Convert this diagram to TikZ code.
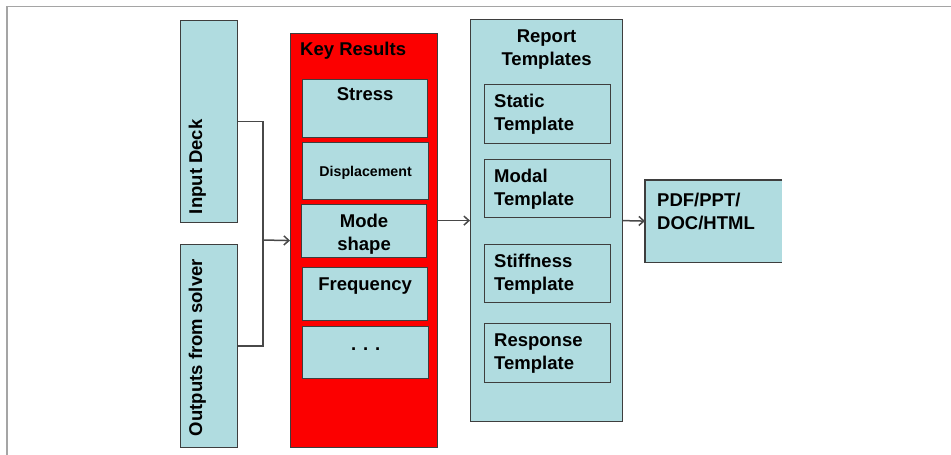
\documentclass[tikz,border=0pt]{standalone}
\usepackage{fontspec}
\setmainfont{Liberation Sans}
\usetikzlibrary{positioning,arrows.meta}
\definecolor{boxteal}{RGB}{176,220,224}
\definecolor{boxred}{RGB}{252,0,0}
\definecolor{edgegray}{RGB}{62,62,62}
\definecolor{framegray}{RGB}{165,165,165}
\definecolor{linegray}{RGB}{72,72,72}

\begin{document}
\begin{tikzpicture}[
    x=1pt, y=-1pt,
    box/.style={rectangle, draw=edgegray, line width=1.2pt, fill=boxteal, inner sep=0pt, anchor=north west},
    redbox/.style={box, fill=boxred},
    lbl/.style={inner sep=0pt, font=\bfseries\fontsize{18.5}{23}\selectfont, align=left},
    lblc/.style={lbl, align=center},
    small/.style={inner sep=0pt, font=\bfseries\fontsize{14.2}{17}\selectfont},
    wire/.style={draw=linegray, line width=1.5pt},
    arrow/.style={wire, -{Straight Barb[length=5pt,width=9pt]}}
]
\useasboundingbox (0,0) rectangle (951,455);
\draw[framegray, line width=1.3pt] (7,455) |- (951,6.5);

% Inputs
\node[box, minimum width=57pt, minimum height=202pt] (deck) at (180,20) {};
\node[box, minimum width=57pt, minimum height=203pt] (outs) at (180,244) {};
\node[lbl, rotate=90, anchor=base west] (deckT) at ([shift={(22,-9)}]deck.south west) {Input Deck};
\node[lbl, rotate=90, anchor=base west] (outsT) at ([shift={(22,-12)}]outs.south west) {Outputs from solver};

% Key results
\node[redbox, minimum width=147pt, minimum height=414pt] (keyres) at (290,33) {};
\node[lbl, anchor=base west] (keyresT) at ([shift={(10,22)}]keyres.north west) {Key Results};
\node[box, minimum width=125pt, minimum height=58pt] (stress) at (302,79) {};
\node[box, minimum width=126pt, minimum height=57pt] (disp) at (302,142) {};
\node[box, minimum width=125pt, minimum height=53pt] (mode) at (301,204) {};
\node[box, minimum width=125pt, minimum height=53pt] (freq) at (302,267) {};
\node[box, minimum width=126pt, minimum height=52pt] (more) at (302,326) {};
\node[lbl, anchor=base] (stressT) at ([shift={(0,21)}]stress.north) {Stress};
\node[small, anchor=base] (dispT) at ([shift={(0,5.5)}]disp.center) {Displacement};
\node[lblc, anchor=base] (modeT) at ([shift={(0,46)}]mode.north) {Mode\\shape};
\node[lbl, anchor=base] (freqT) at ([shift={(0,23)}]freq.north) {Frequency};
\node[lbl, anchor=base] (moreT) at ([shift={(0,24)}]more.north) {. . .};

% Report templates
\node[box, minimum width=152pt, minimum height=402pt] (tmpl) at (470,19) {};
\node[lblc, anchor=base] (tmplT) at ([shift={(0,46)}]tmpl.north) {Report\\Templates};
\node[box, minimum width=126pt, minimum height=59pt] (static) at (484,84) {};
\node[box, minimum width=126pt, minimum height=58pt] (modal) at (484,159) {};
\node[box, minimum width=126pt, minimum height=58pt] (stiff) at (484,244) {};
\node[box, minimum width=126pt, minimum height=59pt] (resp) at (484,323) {};
\node[lbl, anchor=base west] (staticT) at ([shift={(10,46.5)}]static.north west) {Static\\Template};
\node[lbl, anchor=base west] (modalT) at ([shift={(10,46)}]modal.north west) {Modal\\Template};
\node[lbl, anchor=base west] (stiffT) at ([shift={(10,46)}]stiff.north west) {Stiffness\\Template};
\node[lbl, anchor=base west] (respT) at ([shift={(10,46.3)}]resp.north west) {Response\\Template};

% Output formats (cut off at the right)
\node[box, draw=none, minimum width=136pt, minimum height=81pt] (pdf) at (645,180) {};
\draw[edgegray, line width=1.2pt] (pdf.north east) -| (pdf.south west) -- (pdf.south east);
\node[lbl, anchor=base west] (pdfT) at ([shift={(12,49.3)}]pdf.north west) {PDF/PPT/\\DOC/HTML};

% Connectors
\coordinate (join) at (263,240);
\draw[wire] (deck.east) -| (join) |- (outs.east);
\draw[arrow] (join) -- (keyres.west);
\draw[arrow] (keyres.east |- tmpl.west) -- (tmpl.west);
\draw[arrow] (tmpl.east) -- (pdf.west);

\end{tikzpicture}
\end{document}
